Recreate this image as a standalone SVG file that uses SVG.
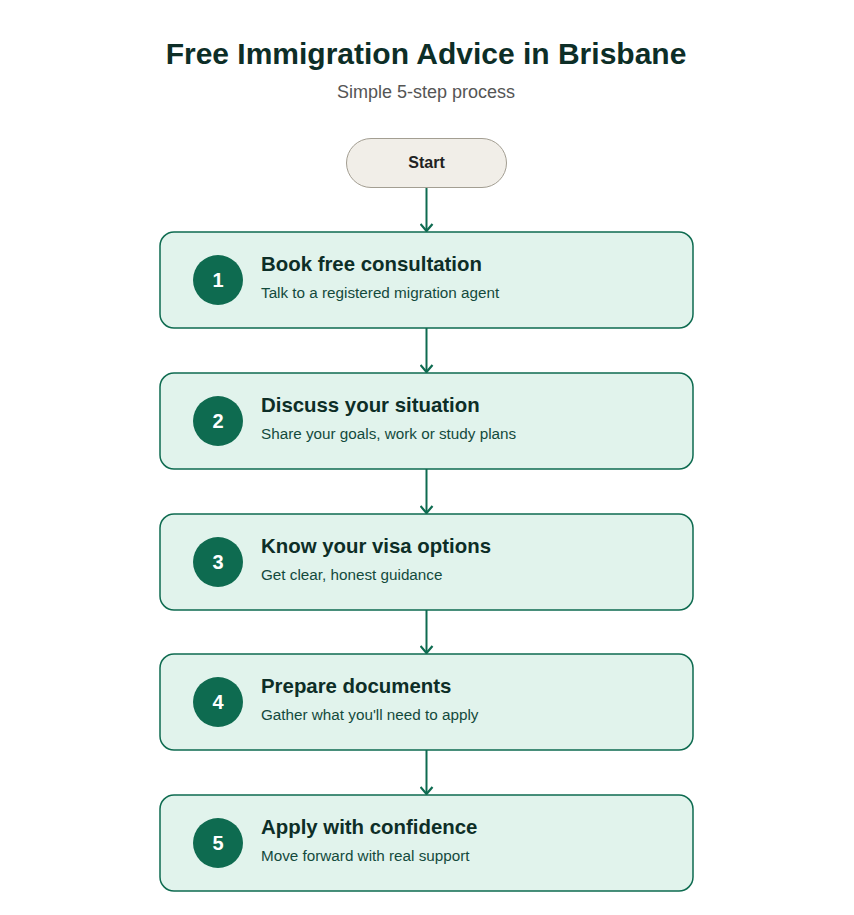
<svg xmlns="http://www.w3.org/2000/svg" width="854" height="915" viewBox="0 0 854 915">
<style>
.title{font-family:"Liberation Sans",Arial,sans-serif;font-size:30px;font-weight:bold;fill:#0d2e27;text-anchor:middle}
.sub{font-family:"Liberation Sans",Arial,sans-serif;font-size:18px;fill:#555;text-anchor:middle}
.box{fill:#e1f3ec;stroke:#0e6b50;stroke-width:1.5}
.circ{fill:#0e6b50}
.num{font-family:"Liberation Sans",Arial,sans-serif;font-size:20px;font-weight:bold;fill:#fff;text-anchor:middle}
.h{font-family:"Liberation Sans",Arial,sans-serif;font-size:20.4px;font-weight:bold;fill:#0d2e27}
.d{font-family:"Liberation Sans",Arial,sans-serif;font-size:15.25px;fill:#134a3c}
.conn{stroke:#0e6b50;stroke-width:2;fill:none}
</style>
<defs>
<marker id="arr" viewBox="0 0 14 14" refX="12" refY="7" markerWidth="14" markerHeight="14" markerUnits="userSpaceOnUse" orient="auto">
<path d="M5,1 L12,7 L5,13" fill="none" stroke="#0e6b50" stroke-width="2.2"/>
</marker>
</defs>
<rect width="854" height="915" fill="#fff"/>
<text class="title" x="426" y="64">Free Immigration Advice in Brisbane</text>
<text class="sub" x="426" y="98">Simple 5-step process</text>
<g id="connectors">
<line class="conn" x1="426.5" y1="188" x2="426.5" y2="231" marker-end="url(#arr)"/>
<line class="conn" x1="426.5" y1="328" x2="426.5" y2="372" marker-end="url(#arr)"/>
<line class="conn" x1="426.5" y1="469" x2="426.5" y2="513" marker-end="url(#arr)"/>
<line class="conn" x1="426.5" y1="610" x2="426.5" y2="653" marker-end="url(#arr)"/>
<line class="conn" x1="426.5" y1="750" x2="426.5" y2="794" marker-end="url(#arr)"/>
</g>
<g id="start">
<rect x="346.5" y="138.5" width="160" height="49" rx="24.5" fill="#f1eee8" stroke="#a39e92" stroke-width="1"/>
<text x="426.5" y="168" text-anchor="middle" style="font-family:'Liberation Sans',Arial,sans-serif;font-size:16px;font-weight:bold;fill:#222">Start</text>
</g>
<g id="step1">
<rect class="box" x="160" y="232" width="533" height="96" rx="14"/>
<circle class="circ" cx="218" cy="280" r="25"/>
<text class="num" x="218" y="287">1</text>
<text class="h" x="261" y="271">Book free consultation</text>
<text class="d" x="261" y="298">Talk to a registered migration agent</text>
</g>
<g id="step2">
<rect class="box" x="160" y="373" width="533" height="96" rx="14"/>
<circle class="circ" cx="218" cy="421" r="25"/>
<text class="num" x="218" y="428">2</text>
<text class="h" x="261" y="412">Discuss your situation</text>
<text class="d" x="261" y="439">Share your goals, work or study plans</text>
</g>
<g id="step3">
<rect class="box" x="160" y="514" width="533" height="96" rx="14"/>
<circle class="circ" cx="218" cy="562" r="25"/>
<text class="num" x="218" y="569">3</text>
<text class="h" x="261" y="553">Know your visa options</text>
<text class="d" x="261" y="580">Get clear, honest guidance</text>
</g>
<g id="step4">
<rect class="box" x="160" y="654" width="533" height="96" rx="14"/>
<circle class="circ" cx="218" cy="702" r="25"/>
<text class="num" x="218" y="709">4</text>
<text class="h" x="261" y="693">Prepare documents</text>
<text class="d" x="261" y="720">Gather what you'll need to apply</text>
</g>
<g id="step5">
<rect class="box" x="160" y="795" width="533" height="96" rx="14"/>
<circle class="circ" cx="218" cy="843" r="25"/>
<text class="num" x="218" y="850">5</text>
<text class="h" x="261" y="834">Apply with confidence</text>
<text class="d" x="261" y="861">Move forward with real support</text>
</g>
</svg>
